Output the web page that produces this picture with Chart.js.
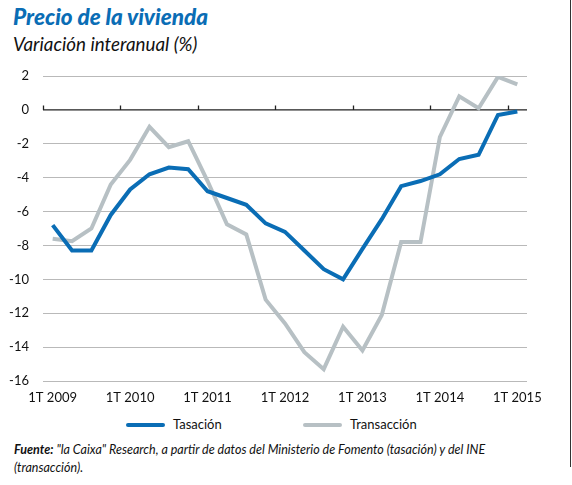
<!DOCTYPE html>
<html>
<head>
<meta charset="utf-8">
<script src="https://cdn.jsdelivr.net/npm/chart.js@4"></script>
<style>
  body { margin: 0; background: #fff; }
  #page { position: relative; width: 572px; height: 485px; overflow: hidden; font-family: "Lato", "Open Sans", sans-serif; }
  #edge { position: absolute; left: 570px; top: 0; width: 1px; height: 467px; background: #333; }
  #title { position: absolute; left: 13px; top: 3px; font-size: 22.5px; font-weight: 900; font-style: italic; color: #0a6db5; white-space: nowrap; }
  #subtitle { position: absolute; left: 13px; top: 32px; font-size: 18.8px; font-style: italic; color: #111; white-space: nowrap; }
  #wrap { position: absolute; left: 0; top: 60px; width: 572px; height: 351px; }
  .leg { position: absolute; top: 416px; font-size: 13px; color: #111; white-space: nowrap; }
  .leg i { position: absolute; top: 7px; width: 39px; height: 4px; border-radius: 2px; }
  #note { position: absolute; left: 14px; top: 441px; width: 540px; font-size: 12.5px; font-style: italic; color: #111; line-height: 18px; font-family: "Liberation Sans Narrow", "Lato", sans-serif; }
</style>
</head>
<body>
<div id="page">
  <div id="edge"></div>
  <div id="title">Precio de la vivienda</div>
  <div id="subtitle">Variación interanual (%)</div>
  <div id="wrap"><canvas id="chart"></canvas></div>
  <div class="leg" style="left:126px"><i style="left:0;background:#0a6db5"></i><span style="margin-left:47px">Tasación</span></div>
  <div class="leg" style="left:303px"><i style="left:0;background:#b7c0c4"></i><span style="margin-left:47px">Transacción</span></div>
  <div id="note"><b>Fuente:</b> "la Caixa" Research, a partir de datos del Ministerio de Fomento (tasación) y del INE (transacción).</div>
</div>
<script>
// Quarters 1T 2009 .. 1T 2015
const quarters = [];
for (let y = 2009; y <= 2015; y++) {
    for (let q = 1; q <= 4; q++) {
        if (y === 2015 && q > 1) break;
        quarters.push(q + 'T ' + y);
    }
}

// Values
const tasacion = [-6.8, -8.3, -8.3, -6.2, -4.7, -3.8, -3.4, -3.5, -4.8, -5.2, -5.6, -6.7, -7.2,
    -8.3, -9.4, -10.0, -8.2, -6.45, -4.5, -4.2, -3.8, -2.9, -2.65, -0.3, -0.1];
const transaccion = [-7.6, -7.75, -7.0, -4.4, -2.95, -1.0, -2.2, -1.85, -4.2, -6.75, -7.35, -11.2, -12.6,
    -14.3, -15.3, -12.8, -14.2, -12.1, -7.8, -7.8, -1.6, 0.8, 0.1, 1.95, 1.5];

const yTicks = [2, 0, -2, -4, -6, -8, -10, -12, -14, -16];

// Black zero line with small tick marks at the start of each year
const zeroAxis = {
    id: 'zeroAxis',
    beforeDatasetsDraw(chart) {
        const ctx = chart.ctx;
        const x = chart.scales.x;
        const y0 = chart.scales.y.getPixelForValue(0);
        const area = chart.chartArea;
        const half = (x.getPixelForTick(1) - x.getPixelForTick(0)) / 2;
        ctx.save();
        ctx.strokeStyle = '#222';
        ctx.lineWidth = 1.3;
        ctx.beginPath();
        ctx.moveTo(area.left, y0);
        ctx.lineTo(area.right, y0);
        for (let i = 0; i < quarters.length; i += 4) {
            const px = Math.round(x.getPixelForTick(i) - half) + 0.5;
            ctx.moveTo(px, y0);
            ctx.lineTo(px, y0 - 4.5);
        }
        ctx.stroke();
        ctx.restore();
    }
};

const ctx = document.getElementById('chart').getContext('2d');
new Chart(ctx, {
    type: 'line',
    data: {
        labels: quarters,
        datasets: [{
            label: 'Tasación',
            data: tasacion,
            borderColor: '#0a6db5',
            backgroundColor: '#0a6db5',
            borderWidth: 4,
            pointRadius: 0,
            tension: 0,
            borderJoinStyle: 'miter',
            order: 1
        }, {
            label: 'Transacción',
            data: transaccion,
            borderColor: '#b7c0c4',
            backgroundColor: '#b7c0c4',
            borderWidth: 4,
            pointRadius: 0,
            tension: 0,
            borderJoinStyle: 'miter',
            order: 2
        }]
    },
    options: {
        responsive: true,
        maintainAspectRatio: false,
        animation: false,
        layout: { padding: { left: 0, right: 45, top: 16, bottom: 0 } },
        plugins: {
            legend: { display: false },
            tooltip: { enabled: false }
        },
        scales: {
            x: {
                offset: true,
                grid: { display: false, drawTicks: false },
                border: { display: false },
                ticks: {
                    autoSkip: false,
                    maxRotation: 0,
                    minRotation: 0,
                    padding: 9,
                    color: '#111',
                    font: { family: 'Lato', size: 13 },
                    callback: (v, i) => (i % 4 === 0 ? quarters[i] : '')
                },
                afterFit: (s) => { s.height = 30; s.paddingLeft = 0; s.paddingRight = 0; }
            },
            y: {
                min: -16,
                max: 2,
                afterBuildTicks: (s) => { s.ticks = yTicks.map(v => ({ value: v })); },
                grid: {
                    color: (c) => (c.tick && c.tick.value === 0 ? 'rgba(0,0,0,0)' : '#b9b9b9'),
                    lineWidth: 1,
                    drawTicks: false
                },
                border: { display: false },
                ticks: {
                    padding: 14,
                    color: '#111',
                    font: { family: 'Lato', size: 13 }
                },
                afterFit: (s) => { s.width = 43; s.paddingTop = 0; s.paddingBottom = 0; }
            }
        }
    },
    plugins: [zeroAxis]
});
</script>
</body>
</html>
